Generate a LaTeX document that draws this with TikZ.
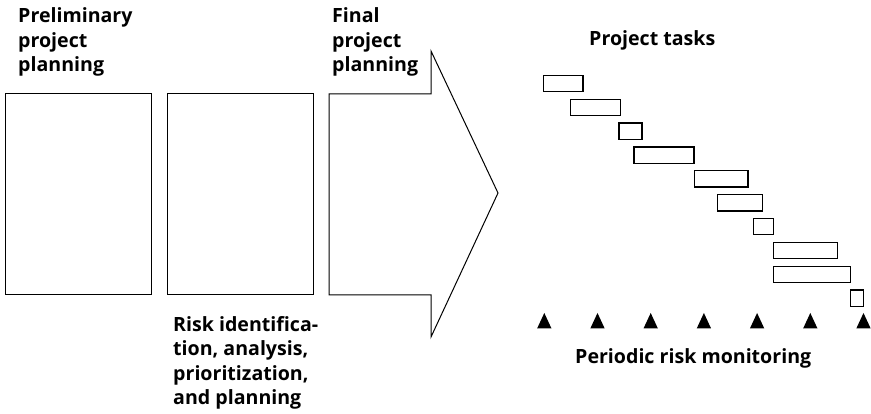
\documentclass[tikz,border=0pt]{standalone}
\usepackage{fontspec}
\setmainfont{Open Sans}
\begin{document}
\begin{tikzpicture}[x=1pt,y=-1pt,
  lbl/.style={font=\bfseries\fontsize{19.6}{24.5}\selectfont, align=left, inner sep=0pt, anchor=base west},
  panel/.style={draw, line width=1pt, fill=white},
  task/.style={draw, line width=1.1pt},
  tri/.style={fill=black}]
\useasboundingbox (0,0) rectangle (871,414);
% left panels
\draw[panel] (5,94) rectangle (151,295);
\draw[panel] (167,94) rectangle (313,295);
\draw[panel] (329,94) -- (431,94) -- (431,51) -- (498,193) -- (431,337) -- (431,295) -- (329,295) -- cycle;
% labels (anchored at the baseline of the last line)
\node[lbl] (prelim) at (18,72) {Preliminary\\project\\planning};
\node[lbl] (final) at (332,72) {Final\\project\\planning};
\node[lbl] (risk) at (173,404.5) {Risk identifica-\\tion, analysis,\\prioritization,\\and planning};
\node[lbl] (tasks) at (589,46) {Project tasks};
\node[lbl] (monitor) at (575,363) {Periodic risk monitoring};
% gantt tasks
\draw[task] (543.3,75.3) rectangle (583,91.7);
\draw[task] (570.3,99.3) rectangle (620.3,115.3);
\draw[task] (619,123) rectangle (642,139.3);
\draw[task] (634,147) rectangle (694,163.3);
\draw[task] (694.3,170.7) rectangle (748,187);
\draw[task] (717.3,194.7) rectangle (762.7,211);
\draw[task] (753.3,218.7) rectangle (773.3,234.7);
\draw[task] (773.7,242.3) rectangle (837.7,258.7);
\draw[task] (773.7,266.3) rectangle (850.7,282.3);
\draw[task] (850.3,290) rectangle (863.7,306.3);
% monitoring triangles
\foreach \cx in {544.3,597.5,650.7,703.9,757.1,810.3,863.5}
  \fill[tri] (\cx-7.2,328.5) -- (\cx,313) -- (\cx+7.2,328.5) -- cycle;
\end{tikzpicture}
\end{document}
